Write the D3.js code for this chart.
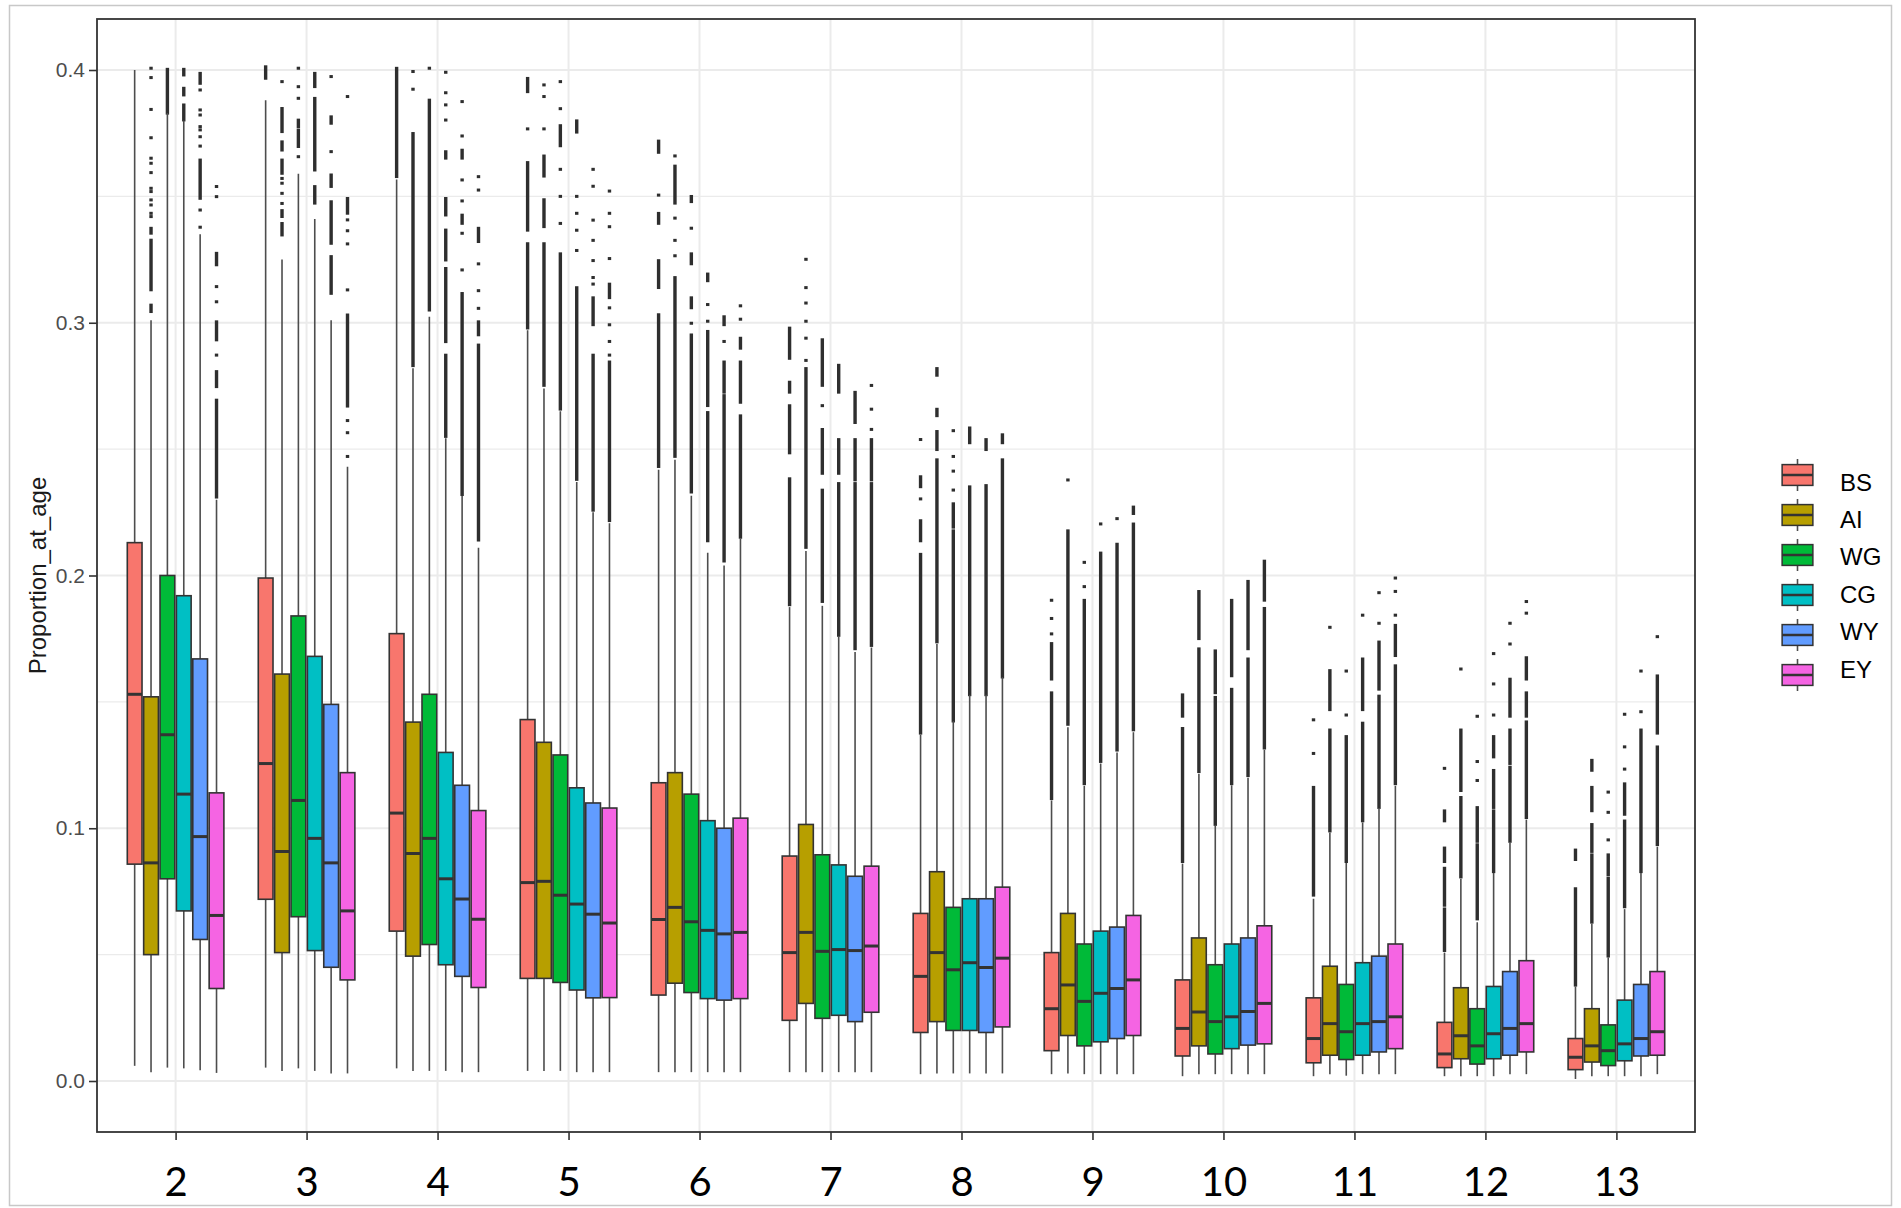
<!DOCTYPE html>
<html>
<head>
<meta charset="utf-8">
<script src="https://cdn.jsdelivr.net/npm/d3@7"></script>
<style>
  html, body { margin: 0; padding: 0; background: #ffffff; }
  svg { display: block; }
</style>
</head>
<body>
<svg id="chart" width="1901" height="1208"></svg>
<script>
// ---------------- DATA ----------------
const ages = ["2", "3", "4", "5", "6", "7", "8", "9", "10", "11", "12", "13"];
const regions = ["BS", "AI", "WG", "CG", "WY", "EY"];
const regionColors = ["#F8766D", "#B79F00", "#00BA38", "#00BFC4", "#619CFF", "#F564E3"];
const yTicks = [0.0, 0.1, 0.2, 0.3, 0.4];
const yTickLabels = ["0.0", "0.1", "0.2", "0.3", "0.4"];
const yMinorTicks = [0.05, 0.15, 0.25, 0.35];
const yTitle = "Proportion_at_age";

// rows = ages, columns = regions (BS, AI, WG, CG, WY, EY)
const q3Vals = [
  [0.213, 0.152, 0.200, 0.192, 0.167, 0.114],
  [0.199, 0.161, 0.184, 0.168, 0.149, 0.122],
  [0.177, 0.142, 0.153, 0.130, 0.117, 0.107],
  [0.143, 0.134, 0.129, 0.116, 0.110, 0.108],
  [0.118, 0.122, 0.1135, 0.103, 0.100, 0.104],
  [0.089, 0.1015, 0.0895, 0.0855, 0.081, 0.085],
  [0.0663, 0.0828, 0.0687, 0.0721, 0.0721, 0.0767],
  [0.0508, 0.0663, 0.0542, 0.0593, 0.0609, 0.0655],
  [0.040, 0.0566, 0.046, 0.0542, 0.0566, 0.0614],
  [0.0329, 0.0454, 0.0382, 0.0468, 0.0494, 0.0542],
  [0.0232, 0.0369, 0.0286, 0.0374, 0.0433, 0.0476],
  [0.0168, 0.0286, 0.0222, 0.032, 0.0382, 0.0433]
];
const medianVals = [
  [0.153, 0.0863, 0.137, 0.1135, 0.0967, 0.0655],
  [0.1256, 0.0908, 0.111, 0.096, 0.0863, 0.0673],
  [0.106, 0.090, 0.096, 0.080, 0.072, 0.064],
  [0.0785, 0.079, 0.0735, 0.070, 0.066, 0.0625],
  [0.0639, 0.0687, 0.063, 0.0596, 0.0582, 0.0588],
  [0.0508, 0.0588, 0.0513, 0.052, 0.0516, 0.0534],
  [0.0414, 0.0508, 0.044, 0.0468, 0.0449, 0.0486],
  [0.0286, 0.038, 0.0315, 0.0347, 0.0366, 0.040],
  [0.0208, 0.0273, 0.0235, 0.0254, 0.0275, 0.0307],
  [0.0168, 0.0227, 0.0195, 0.0227, 0.0235, 0.0254],
  [0.0107, 0.0179, 0.0139, 0.0187, 0.0208, 0.0227],
  [0.0094, 0.0139, 0.012, 0.0147, 0.0168, 0.0195]
];
const q1Vals = [
  [0.0858, 0.050, 0.080, 0.0673, 0.056, 0.0366],
  [0.0719, 0.0508, 0.065, 0.0516, 0.045, 0.040],
  [0.0593, 0.0494, 0.054, 0.046, 0.0414, 0.037],
  [0.0406, 0.0406, 0.039, 0.036, 0.0329, 0.033],
  [0.034, 0.0387, 0.035, 0.0326, 0.032, 0.0326],
  [0.024, 0.0307, 0.0248, 0.026, 0.0235, 0.0272],
  [0.0192, 0.0235, 0.020, 0.020, 0.0192, 0.0214],
  [0.012, 0.018, 0.0139, 0.0155, 0.0168, 0.018],
  [0.0099, 0.0139, 0.0107, 0.0128, 0.0142, 0.0147],
  [0.0072, 0.0102, 0.0085, 0.0102, 0.0115, 0.0128],
  [0.0053, 0.0088, 0.0067, 0.0088, 0.0102, 0.0115],
  [0.0045, 0.0075, 0.0061, 0.008, 0.0099, 0.0102]
];
const whiskerLowVals = [
  [0.006, 0.0035, 0.0053, 0.005, 0.0043, 0.0032],
  [0.0053, 0.004, 0.005, 0.004, 0.003, 0.003],
  [0.005, 0.004, 0.004, 0.004, 0.0035, 0.0035],
  [0.004, 0.004, 0.004, 0.0035, 0.0035, 0.0035],
  [0.0035, 0.0035, 0.0035, 0.0035, 0.0035, 0.0035],
  [0.0035, 0.0035, 0.0035, 0.0035, 0.0035, 0.0035],
  [0.0027, 0.003, 0.003, 0.003, 0.003, 0.003],
  [0.0027, 0.003, 0.0027, 0.0027, 0.0027, 0.0027],
  [0.0019, 0.0027, 0.0027, 0.0027, 0.0027, 0.0027],
  [0.0019, 0.0027, 0.0021, 0.0027, 0.0027, 0.0027],
  [0.0019, 0.0019, 0.0019, 0.0019, 0.0027, 0.0027],
  [0.0008, 0.0019, 0.0019, 0.0019, 0.0019, 0.0027]
];
const whiskerHighVals = [
  [0.400, 0.301, 0.383, 0.380, 0.335, 0.230],
  [0.388, 0.325, 0.359, 0.341, 0.301, 0.243],
  [0.3567, 0.282, 0.3024, 0.2543, 0.2316, 0.211],
  [0.297, 0.274, 0.265, 0.237, 0.225, 0.2207],
  [0.2418, 0.2458, 0.2316, 0.209, 0.204, 0.2145],
  [0.1875, 0.2097, 0.188, 0.176, 0.1697, 0.1715],
  [0.137, 0.1729, 0.1424, 0.1528, 0.1528, 0.1598],
  [0.111, 0.140, 0.1168, 0.1256, 0.130, 0.138],
  [0.086, 0.1216, 0.101, 0.117, 0.120, 0.131],
  [0.0721, 0.0983, 0.0863, 0.1023, 0.108, 0.1168],
  [0.0508, 0.080, 0.0628, 0.0823, 0.0943, 0.1034],
  [0.0374, 0.0622, 0.0489, 0.068, 0.0823, 0.0927]
];
// isolated outlier points, [age][region] -> values
const outlierPoints = [
  [ [],
    [0.4007, 0.3970, 0.3844, 0.3732, 0.3651, 0.3631, 0.3594, 0.3532, 0.3519, 0.3486, 0.3466, 0.3433, 0.3420],
    [],
    [],
    [0.3921, 0.3842, 0.3822, 0.3776, 0.3763, 0.3736, 0.3699, 0.3446, 0.3378],
    [0.3539, 0.3499, 0.3143, 0.3083, 0.2872] ],
  [ [],
    [0.3954, 0.3571, 0.3552, 0.3512, 0.3472],
    [0.4007, 0.3934, 0.3888, 0.3657],
    [],
    [0.3974, 0.3677],
    [0.3895, 0.3407, 0.3364, 0.3312, 0.3130, 0.2613, 0.2565, 0.2471] ],
  [ [],
    [0.3994, 0.3924],
    [0.4007],
    [0.3991, 0.3910, 0.3862, 0.3802],
    [0.3875, 0.3739, 0.3565, 0.3482, 0.3354, 0.3209],
    [0.3578, 0.3525, 0.3233, 0.3127, 0.3057] ],
  [ [0.3767],
    [0.3941, 0.3895, 0.3767],
    [0.3954, 0.3847, 0.3607, 0.3500, 0.3393],
    [0.3500, 0.3433, 0.3366, 0.3286],
    [0.3607, 0.3540, 0.3406, 0.3326, 0.3246, 0.3179, 0.3153],
    [0.3521, 0.3433, 0.3380, 0.3254, 0.3059, 0.2992, 0.2926, 0.2872] ],
  [ [0.3505],
    [0.3660, 0.3414, 0.3326, 0.3265],
    [0.3374, 0.2998],
    [0.3072, 0.3006],
    [0.2926],
    [0.3067, 0.3014] ],
  [ [],
    [0.3251, 0.3139, 0.3078, 0.3006, 0.2939, 0.2851],
    [0.2672],
    [],
    [],
    [0.2752, 0.2658, 0.2578] ],
  [ [0.2538, 0.2303],
    [],
    [0.2573, 0.2471, 0.2413, 0.2338],
    [],
    [],
    [] ],
  [ [0.1902, 0.1830, 0.1769],
    [0.2378],
    [0.2052, 0.1956],
    [0.2204],
    [0.2225],
    [] ],
  [ [], [], [], [], [], [] ],
  [ [0.1429, 0.1296],
    [0.1795],
    [0.1622, 0.1448],
    [0.1843],
    [0.1932, 0.1811],
    [0.1990, 0.1937, 0.1843] ],
  [ [0.1237],
    [0.1630],
    [0.1443, 0.1264, 0.1189],
    [0.1691, 0.1571, 0.1448],
    [0.1811, 0.1729],
    [0.1897, 0.1851] ],
  [ [],
    [],
    [0.1143, 0.1063, 0.0954],
    [0.1451, 0.1322, 0.1234],
    [0.1622, 0.1461],
    [0.1758] ]
];
// dense stacks of outliers, [age][region] -> [low, high] ranges
const outlierRuns = [
  [ [],
    [[0.3354, 0.3374], [0.3130, 0.3327], [0.3044, 0.3070]],
    [[0.3829, 0.4003]],
    [[0.3980, 0.4003], [0.3901, 0.3928], [0.3802, 0.3862]],
    [[0.3492, 0.3644], [0.3947, 0.3987]],
    [[0.3229, 0.3275], [0.2932, 0.3004], [0.2747, 0.2807], [0.2310, 0.2694]] ],
  [ [[0.3967, 0.4013]],
    [[0.3756, 0.3848], [0.3683, 0.3716], [0.3591, 0.3644], [0.3420, 0.3444], [0.3347, 0.3393]],
    [[0.3776, 0.3802], [0.3697, 0.3763]],
    [[0.3934, 0.3987], [0.3604, 0.3888], [0.3473, 0.3539]],
    [[0.3789, 0.3815], [0.3539, 0.3585], [0.3314, 0.3479], [0.3116, 0.3262]],
    [[0.3433, 0.3492], [0.2670, 0.3031]] ],
  [ [[0.3578, 0.4007]],
    [[0.2830, 0.3749]],
    [[0.3050, 0.3881]],
    [[0.3651, 0.3677], [0.3426, 0.3492], [0.3248, 0.3367], [0.2925, 0.3215], [0.2550, 0.2872]],
    [[0.3651, 0.3683], [0.3393, 0.3426], [0.2320, 0.3116]],
    [[0.3321, 0.3374], [0.2952, 0.3004], [0.2140, 0.2912]] ],
  [ [[0.3914, 0.3967], [0.3366, 0.3634], [0.2979, 0.3313]],
    [[0.3580, 0.3660], [0.3380, 0.3487], [0.2752, 0.3313]],
    [[0.3700, 0.3780], [0.2658, 0.3273]],
    [[0.3754, 0.3799], [0.2380, 0.3139]],
    [[0.2992, 0.3099], [0.2258, 0.2872]],
    [[0.3099, 0.3153], [0.2217, 0.2845]] ],
  [ [[0.3674, 0.3719], [0.3393, 0.3433], [0.3139, 0.3246], [0.2431, 0.3032]],
    [[0.3473, 0.3620], [0.2471, 0.3179]],
    [[0.3479, 0.3500], [0.3233, 0.3273], [0.3059, 0.3099], [0.2330, 0.2952]],
    [[0.3166, 0.3193], [0.2672, 0.2966], [0.2137, 0.2645]],
    [[0.2992, 0.3024], [0.2725, 0.2845], [0.2057, 0.2712]],
    [[0.2899, 0.2939], [0.2685, 0.2845], [0.2151, 0.2632]] ],
  [ [[0.2859, 0.2979], [0.2725, 0.2765], [0.2485, 0.2672], [0.1884, 0.2383]],
    [[0.2111, 0.2819]],
    [[0.2752, 0.2933], [0.2404, 0.2578], [0.1897, 0.2338]],
    [[0.2725, 0.2832], [0.2404, 0.2538], [0.1763, 0.2364]],
    [[0.2605, 0.2725], [0.2378, 0.2538], [0.1710, 0.2364]],
    [[0.2378, 0.2538], [0.1723, 0.2364]] ],
  [ [[0.2351, 0.2391], [0.2137, 0.2217], [0.1376, 0.2084]],
    [[0.2792, 0.2819], [0.2632, 0.2658], [0.2498, 0.2570], [0.1737, 0.2458]],
    [[0.2191, 0.2284], [0.1424, 0.2177]],
    [[0.2525, 0.2584], [0.1528, 0.2351]],
    [[0.2498, 0.2538], [0.1528, 0.2356]],
    [[0.2525, 0.2557], [0.1598, 0.2458]] ],
  [ [[0.1590, 0.1731], [0.1117, 0.1536]],
    [[0.1411, 0.2177]],
    [[0.1176, 0.1902]],
    [[0.1264, 0.2089]],
    [[0.1309, 0.2124]],
    [[0.2245, 0.2271], [0.1389, 0.2204]] ],
  [ [[0.1443, 0.1528], [0.0868, 0.1395]],
    [[0.1750, 0.1937], [0.1224, 0.1710]],
    [[0.1536, 0.1702], [0.1015, 0.1518]],
    [[0.1603, 0.1902], [0.1176, 0.1550]],
    [[0.1710, 0.1977], [0.1208, 0.1670]],
    [[0.1902, 0.2057], [0.1317, 0.1870]] ],
  [ [[0.0735, 0.1162]],
    [[0.1469, 0.1624], [0.0989, 0.1389]],
    [[0.0868, 0.1363]],
    [[0.1469, 0.1670], [0.1029, 0.1416]],
    [[0.1550, 0.1737], [0.1082, 0.1523]],
    [[0.1683, 0.1803], [0.1176, 0.1643]] ],
  [ [[0.1029, 0.1069], [0.0868, 0.0922], [0.0695, 0.0842], [0.0516, 0.0681]],
    [[0.1149, 0.1389], [0.0807, 0.1122]],
    [[0.0948, 0.1082], [0.0641, 0.0935]],
    [[0.1282, 0.1363], [0.1082, 0.1229], [0.0828, 0.1069]],
    [[0.1443, 0.1590], [0.1256, 0.1389], [0.0948, 0.1242]],
    [[0.1590, 0.1675], [0.1443, 0.1536], [0.1042, 0.1421]] ],
  [ [[0.0876, 0.0914], [0.0379, 0.0761]],
    [[0.1229, 0.1269], [0.1069, 0.1162], [0.0908, 0.1015], [0.0628, 0.0895]],
    [[0.0815, 0.0895], [0.0494, 0.0802]],
    [[0.1055, 0.1176], [0.0689, 0.1029]],
    [[0.0828, 0.1389]],
    [[0.1376, 0.1603], [0.0935, 0.1322]] ]
];

// ---------------- LAYOUT ----------------
const panel = { left: 97, top: 19, right: 1695, bottom: 1132 };
const svg = d3.select("#chart");

// outer frame of the picture
svg.append("rect").attr("x", 9.5).attr("y", 5.5).attr("width", 1882).attr("height", 1200)
  .attr("fill", "#ffffff").attr("stroke", "#c8c8c8").attr("stroke-width", 1.5);

const x = d3.scalePoint().domain(ages).range([panel.left, panel.right]).padding(0.6);
const dodgeWidth = x.step() * 0.75;
const xInner = d3.scaleBand().domain(regions).range([-dodgeWidth / 2, dodgeWidth / 2])
  .paddingInner(0.1).paddingOuter(0.05);
const y = d3.scaleLinear().domain([0, 0.4]).range([1081, 70]);
const color = d3.scaleOrdinal().domain(regions).range(regionColors);

const g = svg.append("g");

// panel background
g.append("rect").attr("x", panel.left).attr("y", panel.top)
  .attr("width", panel.right - panel.left).attr("height", panel.bottom - panel.top)
  .attr("fill", "#ffffff");

// grid
const grid = g.append("g").attr("stroke", "#ebebeb");
grid.selectAll("line.minor").data(yMinorTicks).join("line")
  .attr("x1", panel.left).attr("x2", panel.right)
  .attr("y1", d => y(d)).attr("y2", d => y(d)).attr("stroke-width", 1.3);
grid.selectAll("line.majory").data(yTicks).join("line")
  .attr("x1", panel.left).attr("x2", panel.right)
  .attr("y1", d => y(d)).attr("y2", d => y(d)).attr("stroke-width", 2);
grid.selectAll("line.majorx").data(ages).join("line")
  .attr("x1", d => x(d)).attr("x2", d => x(d))
  .attr("y1", panel.top).attr("y2", panel.bottom).attr("stroke-width", 2);

// boxes
const boxes = [];
ages.forEach((a, i) => {
  regions.forEach((r, j) => {
    boxes.push({
      age: a, region: r, i, j,
      lo: whiskerLowVals[i][j], q1: q1Vals[i][j], med: medianVals[i][j],
      q3: q3Vals[i][j], hi: whiskerHighVals[i][j],
      pts: outlierPoints[i][j], runs: outlierRuns[i][j]
    });
  });
});

const bw = xInner.bandwidth();
const cx = d => x(d.age) + xInner(d.region) + bw / 2;

const bg = g.append("g");
const bx = bg.selectAll("g.box").data(boxes).join("g").attr("class", "box");

// outliers: dense stacks and isolated points
bx.each(function (d) {
  const sel = d3.select(this);
  sel.selectAll("rect.run").data(d.runs).join("rect")
    .attr("x", cx(d) - 1.7).attr("width", 3.4)
    .attr("y", r => y(r[1]) - 1.4).attr("height", r => y(r[0]) - y(r[1]) + 2.8)
    .attr("fill", "#2e2e2e");
  sel.selectAll("rect.pt").data(d.pts).join("rect")
    .attr("x", cx(d) - 1.7).attr("width", 3.4)
    .attr("y", v => y(v) - 1.5).attr("height", 3)
    .attr("fill", "#2e2e2e");
});

// whiskers
bx.append("line").attr("x1", cx).attr("x2", cx)
  .attr("y1", d => y(d.hi)).attr("y2", d => y(d.q3))
  .attr("stroke", "#4d4d4d").attr("stroke-width", 1.6);
bx.append("line").attr("x1", cx).attr("x2", cx)
  .attr("y1", d => y(d.q1)).attr("y2", d => y(d.lo))
  .attr("stroke", "#4d4d4d").attr("stroke-width", 1.6);
// box
bx.append("rect")
  .attr("x", d => cx(d) - bw / 2).attr("width", bw)
  .attr("y", d => y(d.q3)).attr("height", d => y(d.q1) - y(d.q3))
  .attr("fill", d => color(d.region))
  .attr("stroke", "#333333").attr("stroke-width", 1.6);
// median
bx.append("line")
  .attr("x1", d => cx(d) - bw / 2).attr("x2", d => cx(d) + bw / 2)
  .attr("y1", d => y(d.med)).attr("y2", d => y(d.med))
  .attr("stroke", "#333333").attr("stroke-width", 3);

// panel border
g.append("rect").attr("x", panel.left).attr("y", panel.top)
  .attr("width", panel.right - panel.left).attr("height", panel.bottom - panel.top)
  .attr("fill", "none").attr("stroke", "#333333").attr("stroke-width", 1.8);

// y axis
const yAxis = d3.axisLeft(y).tickValues(yTicks).tickSize(8).tickPadding(4)
  .tickFormat((d, i) => yTickLabels[i]);
const ya = svg.append("g").attr("transform", `translate(${panel.left},0)`).call(yAxis);
ya.select(".domain").remove();
ya.selectAll(".tick line").attr("stroke", "#333333").attr("stroke-width", 1.6);
ya.selectAll(".tick text").attr("fill", "#4d4d4d")
  .style("font-family", "'Liberation Sans', Arial, sans-serif").style("font-size", "21px");

// x axis
const xAxis = d3.axisBottom(x).tickSize(8).tickPadding(28);
const xa = svg.append("g").attr("transform", `translate(0,${panel.bottom})`).call(xAxis);
xa.select(".domain").remove();
xa.selectAll(".tick line").attr("stroke", "#333333").attr("stroke-width", 1.6);
xa.selectAll(".tick text").attr("fill", "#000000")
  .style("font-family", "Lato, 'Open Sans', sans-serif").style("font-size", "40px");

// y title
svg.append("text")
  .attr("transform", `translate(37,${(panel.top + panel.bottom) / 2}) rotate(-90)`)
  .attr("text-anchor", "middle").attr("dominant-baseline", "central")
  .attr("fill", "#1a1a1a")
  .style("font-family", "'Liberation Sans', Arial, sans-serif").style("font-size", "24px")
  .text(yTitle);

// legend: keys and labels
const keyW = 41, keyH = 40, keyX = 1777, keyY0 = 455;
const labelY0 = 482, labelStep = 37.4;
const lg = svg.append("g");
const items = lg.selectAll("g").data(regions).join("g")
  .attr("transform", (d, i) => `translate(${keyX},${keyY0 + i * keyH})`);
items.append("line").attr("x1", keyW / 2).attr("x2", keyW / 2)
  .attr("y1", keyH * 0.1).attr("y2", keyH * 0.9)
  .attr("stroke", "#4d4d4d").attr("stroke-width", 1.6);
items.append("rect").attr("x", keyW * 0.125).attr("width", keyW * 0.75)
  .attr("y", keyH * 0.24).attr("height", keyH * 0.52)
  .attr("fill", d => color(d)).attr("stroke", "#333333").attr("stroke-width", 1.5);
items.append("line").attr("x1", keyW * 0.125).attr("x2", keyW * 0.875)
  .attr("y1", keyH / 2).attr("y2", keyH / 2)
  .attr("stroke", "#333333").attr("stroke-width", 2.5);
lg.selectAll("text").data(regions).join("text")
  .attr("x", 1840).attr("y", (d, i) => labelY0 + i * labelStep)
  .attr("dominant-baseline", "central").attr("fill", "#000000")
  .style("font-family", "'Liberation Sans', Arial, sans-serif").style("font-size", "24px")
  .text(d => d);
</script>
</body>
</html>
